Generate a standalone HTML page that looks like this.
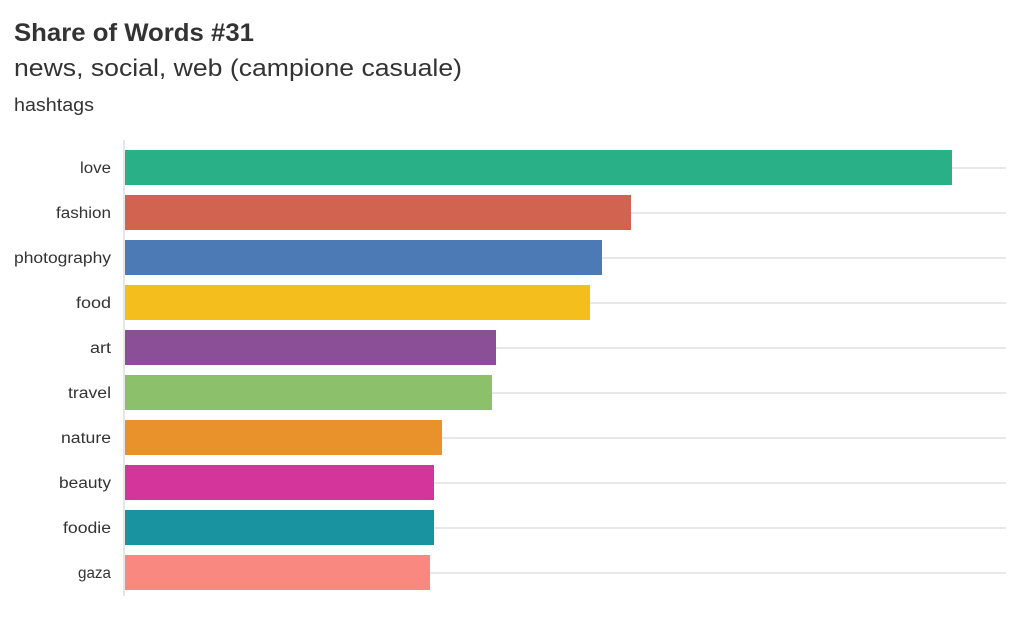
<!DOCTYPE html>
<html><head><meta charset="utf-8"><style>
html,body{margin:0;padding:0;background:#fff;width:1024px;height:620px;overflow:hidden}
svg{display:block}
text{font-family:"Liberation Sans",sans-serif;fill:#333}
</style></head><body>
<svg width="1024" height="620" xmlns="http://www.w3.org/2000/svg">
<text x="14" y="41" font-size="25" font-weight="bold" fill="#333" textLength="240" lengthAdjust="spacingAndGlyphs">Share of Words #31</text>
<text x="14" y="76" font-size="24" fill="#444" textLength="448" lengthAdjust="spacingAndGlyphs">news, social, web (campione casuale)</text>
<text x="14" y="111" font-size="18" fill="#444" textLength="80" lengthAdjust="spacingAndGlyphs">hashtags</text>
<g stroke="#e8e8e8" stroke-width="2">
<line x1="125" x2="1006" y1="168" y2="168"/>
<line x1="125" x2="1006" y1="213" y2="213"/>
<line x1="125" x2="1006" y1="258" y2="258"/>
<line x1="125" x2="1006" y1="303" y2="303"/>
<line x1="125" x2="1006" y1="348" y2="348"/>
<line x1="125" x2="1006" y1="393" y2="393"/>
<line x1="125" x2="1006" y1="438" y2="438"/>
<line x1="125" x2="1006" y1="483" y2="483"/>
<line x1="125" x2="1006" y1="528" y2="528"/>
<line x1="125" x2="1006" y1="573" y2="573"/>
</g>
<line x1="124" x2="124" y1="140" y2="596" stroke="#ddd" stroke-width="1.5"/>
<rect x="125" y="150" width="827" height="35" fill="#2ab086"/>
<rect x="125" y="195" width="506" height="35" fill="#d16350"/>
<rect x="125" y="240" width="477" height="35" fill="#4b7ab5"/>
<rect x="125" y="285" width="465" height="35" fill="#f4bf1c"/>
<rect x="125" y="330" width="371" height="35" fill="#8a4f96"/>
<rect x="125" y="375" width="367" height="35" fill="#8cc06b"/>
<rect x="125" y="420" width="317" height="35" fill="#e9912a"/>
<rect x="125" y="465" width="309" height="35" fill="#d3359b"/>
<rect x="125" y="510" width="309" height="35" fill="#1a93a0"/>
<rect x="125" y="555" width="305" height="35" fill="#f88880"/>
<g font-size="15.5" text-anchor="end" fill="#444">
<text x="111" y="173" textLength="31" lengthAdjust="spacingAndGlyphs">love</text>
<text x="111" y="218" textLength="55" lengthAdjust="spacingAndGlyphs">fashion</text>
<text x="111" y="263" textLength="97" lengthAdjust="spacingAndGlyphs">photography</text>
<text x="111" y="308" textLength="35" lengthAdjust="spacingAndGlyphs">food</text>
<text x="111" y="353" textLength="21" lengthAdjust="spacingAndGlyphs">art</text>
<text x="111" y="398" textLength="43" lengthAdjust="spacingAndGlyphs">travel</text>
<text x="111" y="443" textLength="50" lengthAdjust="spacingAndGlyphs">nature</text>
<text x="111" y="488" textLength="52" lengthAdjust="spacingAndGlyphs">beauty</text>
<text x="111" y="533" textLength="48" lengthAdjust="spacingAndGlyphs">foodie</text>
<text x="111" y="578" textLength="33" lengthAdjust="spacingAndGlyphs">gaza</text>
</g>
</svg>
</body></html>
